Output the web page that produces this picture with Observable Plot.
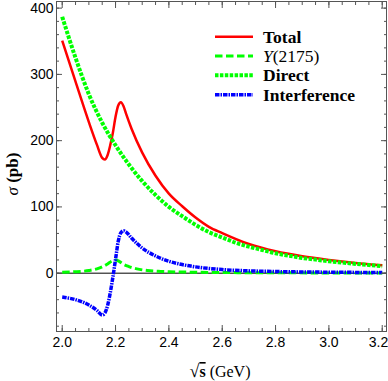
<!DOCTYPE html>
<html>
<head>
<meta charset="utf-8">
<script src="https://cdn.jsdelivr.net/npm/d3@7"></script>
<script src="https://cdn.jsdelivr.net/npm/@observablehq/plot@0.6"></script>
<style>
  html, body { margin: 0; padding: 0; background: #fff; }
  #chart { width: 388px; height: 381px; }
</style>
</head>
<body>
<div id="chart"></div>
<script>
// ---- data ----
const totalE = [2.00,2.05,2.10,2.13,2.15,2.16,2.17,2.18,2.19,2.20,2.21,2.22,2.23,2.24,2.26,2.30,2.35,2.40,2.45,2.50,2.55,2.60,2.70,2.80,2.90,3.00,3.10,3.20];
const totalV = [351,289,228,194,174,171.5,178,193,212,236,253,258,252,240,218,182,147,120,101,84,70,60.5,44,33,25.5,20,15.5,12];

const y2175E = [2.00,2.05,2.10,2.13,2.15,2.17,2.185,2.20,2.215,2.23,2.25,2.28,2.32,2.36,2.40,2.50,2.60,2.80,3.00,3.20];
const y2175V = [1.5,2.2,4,6.5,9.5,14,18,20,17.5,13.5,10,6.5,4,2.8,2.2,1.4,1,0.6,0.4,0.3];

const directE = [2.00,2.05,2.10,2.15,2.20,2.25,2.30,2.35,2.40,2.45,2.50,2.55,2.60,2.65,2.70,2.75,2.80,2.85,2.90,2.95,3.00,3.05,3.10,3.15,3.20];
const directV = [387,325,270,227,193,164,139,118,100,86,73,62,54,46,40,35,30,26.5,23,20.5,18,16,14,12.3,10.5];

const interfE = [2.00,2.05,2.10,2.13,2.15,2.16,2.17,2.18,2.19,2.20,2.21,2.22,2.23,2.24,2.26,2.30,2.35,2.40,2.45,2.50,2.60,2.70,2.80,3.00,3.20];
const interfV = [-36,-40,-48,-56,-63,-60,-49,-30,-6,21,48,61,64,62,53,38,26,18,13,9.5,5.5,3.5,2.5,1.5,1];

const xTicks = [2.0,2.2,2.4,2.6,2.8,3.0,3.2];
const yTicks = [0,100,200,300,400];

const seriesNames = ["Total","Y(2175)","Direct","Interference"];
const seriesColors = ["#ff0000","#00ff00","#00ff00","#0000ff"];
const seriesWidths = [2.5,3,4,3.5];
const seriesDash = [null,"7.5,3.5","3.5,1.4","4.5,1,1.5,1"];

// ---- build rows ----
const rows = (E, V) => E.map((e, i) => ({e, v: V[i]}));
const data = [rows(totalE,totalV), rows(y2175E,y2175V), rows(directE,directV), rows(interfE,interfV)];

const xMinor = d3.range(2.0, 3.2001, 0.05);
const yMinor = d3.range(-80, 401, 20);

const axisColor = "#555";
const lineMarks = data.map((d, i) => Plot.line(d, {
  x: "e", y: "v",
  stroke: seriesColors[i], strokeWidth: seriesWidths[i],
  strokeDasharray: seriesDash[i] || undefined,
  strokeLinecap: "butt",
  curve: "monotone-x"
}));

const chart = Plot.plot({
  width: 388, height: 381,
  marginLeft: 56, marginRight: 2, marginTop: 1, marginBottom: 50,
  x: {domain: [1.9786, 3.216]},
  y: {domain: [-88, 410]},
  style: {background: "#fff", fontFamily: "'Liberation Sans', Arial, sans-serif", fontSize: "14px", color: "#000"},
  marks: [
    Plot.ruleY([0], {stroke: "#000", strokeWidth: 1}),
    ...lineMarks,
    // inward ticks, all four sides
    Plot.axisX(xMinor, {anchor: "bottom", tickSize: -3, fill: "none", label: null, stroke: axisColor}),
    Plot.axisX(xTicks, {anchor: "bottom", tickSize: -6, fill: "none", label: null, stroke: axisColor}),
    Plot.axisX(xMinor, {anchor: "top", tickSize: -3, fill: "none", label: null, stroke: axisColor}),
    Plot.axisX(xTicks, {anchor: "top", tickSize: -6, fill: "none", label: null, stroke: axisColor}),
    Plot.axisY(yMinor, {anchor: "left", tickSize: -3, fill: "none", label: null, stroke: axisColor}),
    Plot.axisY(yTicks, {anchor: "left", tickSize: -6, fill: "none", label: null, stroke: axisColor}),
    Plot.axisY(yMinor, {anchor: "right", tickSize: -3, fill: "none", label: null, stroke: axisColor}),
    Plot.axisY(yTicks, {anchor: "right", tickSize: -6, fill: "none", label: null, stroke: axisColor}),
    // tick labels (last x label kept inside the picture)
    Plot.axisX(xTicks.slice(0, -1), {anchor: "bottom", tickSize: 0, tickPadding: 6, label: null, tickFormat: d3.format(".1f"), fill: "#000"}),
    Plot.axisX(xTicks.slice(-1), {anchor: "bottom", tickSize: 0, tickPadding: 6, label: null, tickFormat: d3.format(".1f"), fill: "#000", textAnchor: "end", dx: 6}),
    Plot.axisY(yTicks, {anchor: "left", tickSize: 0, tickPadding: 3, label: null, tickFormat: d3.format("d"), fill: "#000"}),
    Plot.frame({stroke: axisColor, strokeWidth: 1})
  ]
});

document.getElementById("chart").appendChild(chart);

// ---- legend & axis titles ----
const svg = d3.select(chart);
const serif = "'Liberation Serif', 'DejaVu Serif', serif";
const lg = svg.append("g").attr("text-anchor", "start");
const legendY = [36.7, 56, 75.3, 94.7];
seriesNames.forEach((name, i) => {
  lg.append("line")
    .attr("x1", 215).attr("x2", 253).attr("y1", legendY[i]).attr("y2", legendY[i])
    .attr("stroke", seriesColors[i]).attr("stroke-width", seriesWidths[i])
    .attr("stroke-dasharray", seriesDash[i]);
  const t = lg.append("text")
    .attr("x", 263).attr("y", legendY[i]).attr("dy", "0.35em")
    .attr("text-anchor", "start")
    .attr("font-family", serif).attr("font-size", "17.5px").attr("fill", "#000");
  if (name === "Y(2175)") {
    t.append("tspan").attr("font-style", "italic").text("Y");
    t.append("tspan").text("(2175)");
  } else {
    t.attr("font-weight", "bold").text(name);
  }
});

// y title
const yt = svg.append("text")
  .attr("transform", "translate(18,174) rotate(-90)")
  .attr("text-anchor", "middle")
  .attr("font-family", serif).attr("font-size", "17px").attr("fill", "#000");
yt.append("tspan").attr("font-style", "italic").text("σ");
yt.append("tspan").attr("font-weight", "bold").text(" (pb)");

// x title
const xt = svg.append("text")
  .attr("x", 220).attr("y", 377)
  .attr("text-anchor", "middle")
  .attr("font-family", serif).attr("font-size", "16px").attr("fill", "#000");
xt.append("tspan").attr("font-size", "18px").text("√");
xt.append("tspan").attr("font-weight", "bold").style("text-decoration", "overline").text("s");
xt.append("tspan").text(" (GeV)");
</script>
</body>
</html>
